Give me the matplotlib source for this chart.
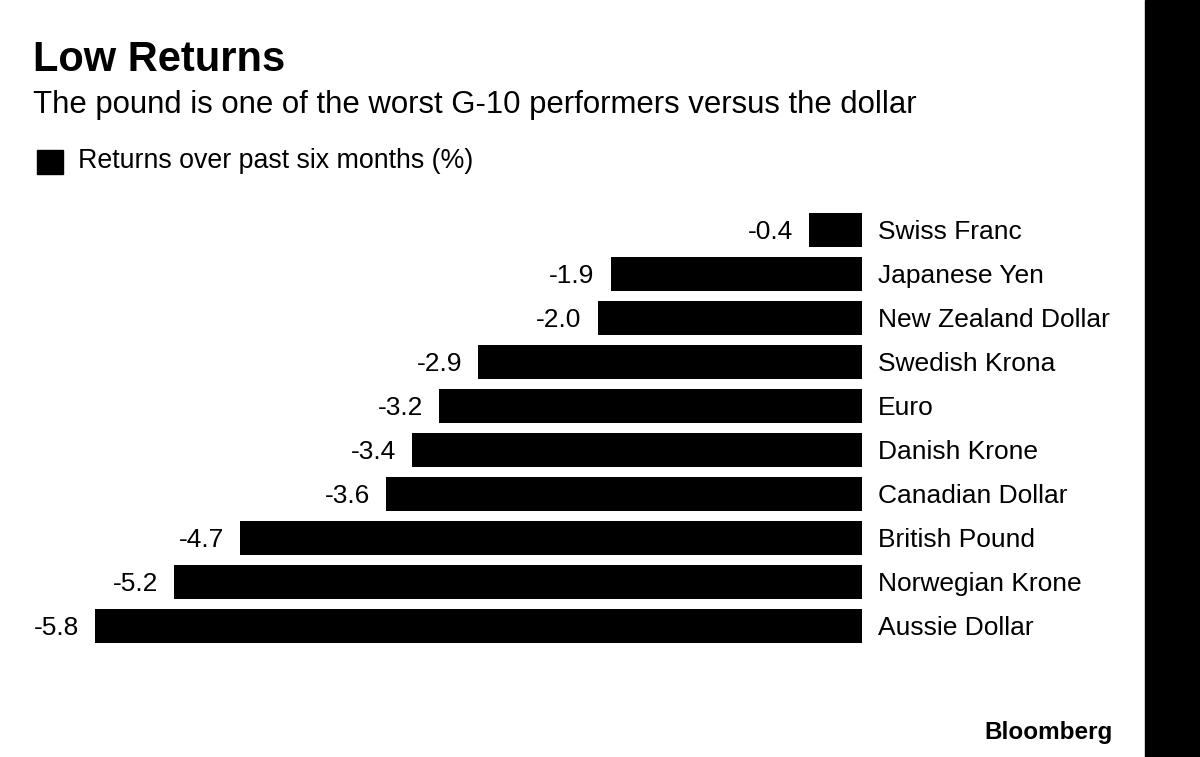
import numpy as np
import matplotlib.pyplot as plt
from matplotlib.patches import Rectangle

# data
currencies = ['Swiss Franc', 'Japanese Yen', 'New Zealand Dollar', 'Swedish Krona',
              'Euro', 'Danish Krone', 'Canadian Dollar', 'British Pound',
              'Norwegian Krone', 'Aussie Dollar']
returns = [-0.4, -1.9, -2.0, -2.9, -3.2, -3.4, -3.6, -4.7, -5.2, -5.8]

title = 'Low Returns'
subtitle = 'The pound is one of the worst G-10 performers versus the dollar'
legend_label = 'Returns over past six months (%)'

W, H = 1200, 757
plt.rcParams['font.family'] = ['Liberation Sans', 'DejaVu Sans']

fig = plt.figure(figsize=(W / 100, H / 100), dpi=100, facecolor='white')


def fx(px):
    return px / W


def fy(py):
    return 1 - py / H


# axes placed so that 0 sits at x=862 px and -5.8 at x=95 px
top_px, bot_px = 190, 660
ax = fig.add_axes([fx(95), fy(bot_px), fx(862 - 95), (bot_px - top_px) / H])
ax.set_xlim(-5.8, 0)
row0, step = 229.7, 44.0
ax.set_ylim((bot_px - row0) / step, (top_px - row0) / step)
ax.axis('off')

y = np.arange(len(currencies))
ax.barh(y, returns, height=0.77, color='black', linewidth=0)

for yi, v, name in zip(y, returns, currencies):
    ax.annotate('%.1f' % v, (v, yi), xytext=(-16, 0), textcoords='offset pixels',
                ha='right', va='center_baseline', fontsize=19)
    ax.annotate(name, (0, yi), xytext=(16, 0), textcoords='offset pixels',
                ha='left', va='center_baseline', fontsize=19)

# header
fig.text(fx(33), fy(71), title, fontsize=30, fontweight='bold', va='baseline')
fig.text(fx(33), fy(113), subtitle, fontsize=22.4, va='baseline')
fig.patches.append(Rectangle((fx(37), fy(174)), fx(26), 24 / H,
                             transform=fig.transFigure, color='black'))
fig.text(fx(78), fy(168), legend_label, fontsize=19.3, va='baseline')

# footer logo and the black strip on the right
fig.text(fx(1113), fy(739), 'Bloomberg', fontsize=17.5, fontweight='bold',
         ha='right', va='baseline')
fig.patches.append(Rectangle((fx(1145), 0), fx(55), 1,
                             transform=fig.transFigure, color='black'))

plt.savefig('out.png', dpi=100, facecolor='white')
